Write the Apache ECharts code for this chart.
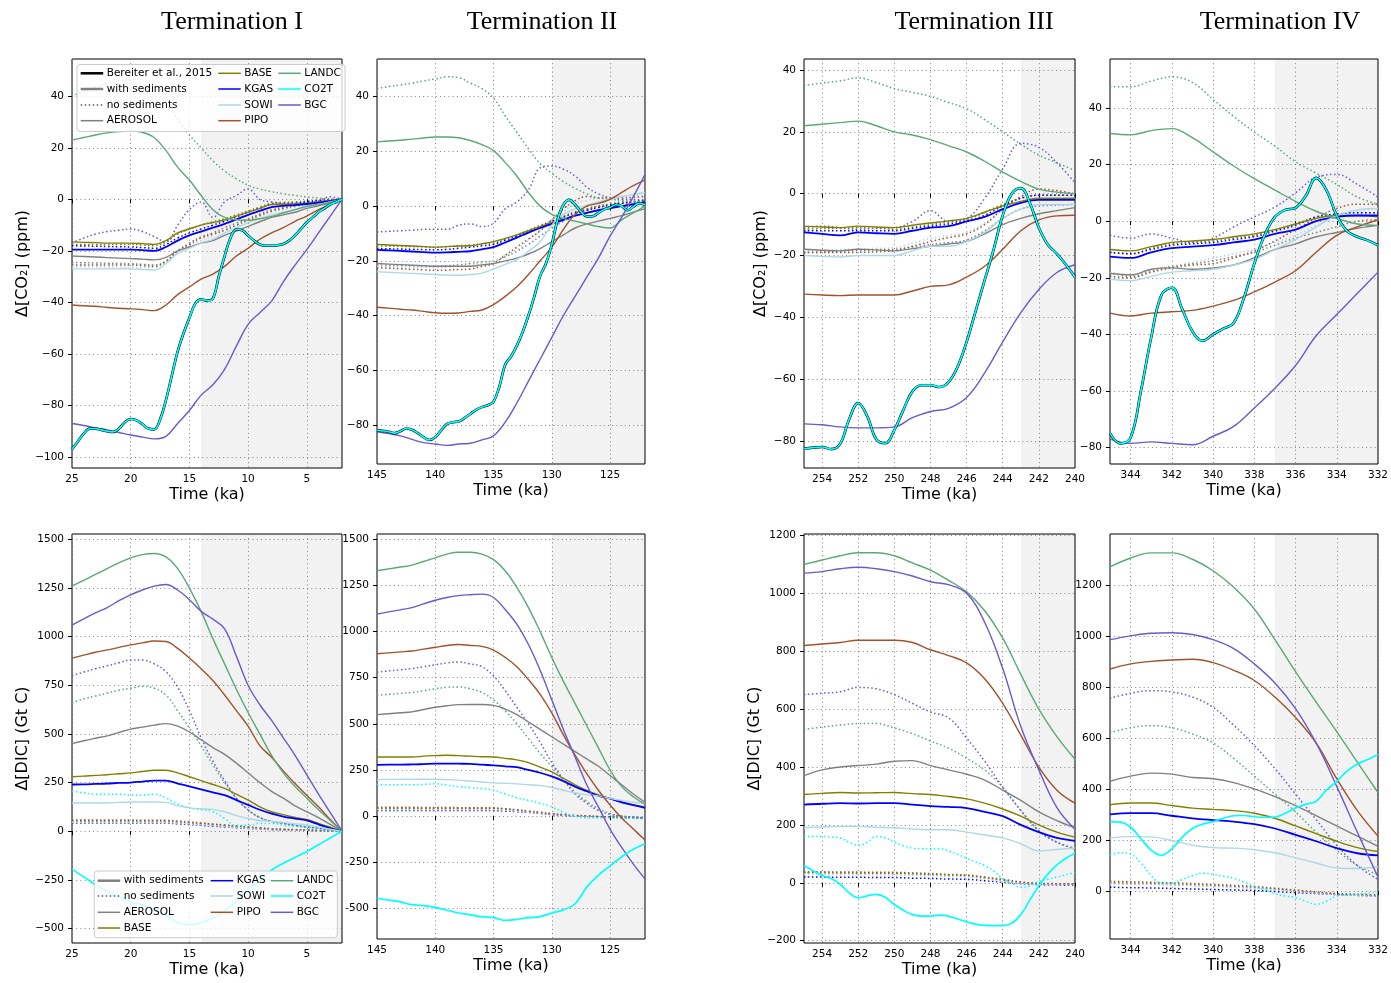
<!DOCTYPE html>
<html>
<head>
<meta charset="utf-8">
<script src="https://cdn.jsdelivr.net/npm/echarts@6/dist/echarts.min.js"></script>
<style>
html,body{margin:0;padding:0;background:#fff;}
#chart{width:1391px;height:983px;}
</style>
</head>
<body>
<div id="chart"></div>
<script>
// ---------------- time grids (ka) ----------------
const T_TI = [25,24,23,22,21,20,19,18,17,16,15,14,13,12,11,10,9,8,7,6,5,4,3,2];
const T_TI_FINE = [25,24.5,24,23.5,23,22.5,22,21.5,21,20.5,20,19.5,19,18.5,18,17.5,17,16.5,16,15.5,15,14.5,14,13.5,13,12.5,12,11.5,11,10.5,10,9.5,9,8.5,8,7.5,7,6.5,6,5.5,5,4.5,4,3.5,3,2.5,2];
const T_TII = [145,144,143,142,141,140,139,138,137,136,135,134,133,132,131,130,129,128,127,126,125,124,123,122];
const T_TII_FINE = [145,144.5,144,143.5,143,142.5,142,141.5,141,140.5,140,139.5,139,138.5,138,137.5,137,136.5,136,135.5,135,134.5,134,133.5,133,132.5,132,131.5,131,130.5,130,129.5,129,128.5,128,127.5,127,126.5,126,125.5,125,124.5,124,123.5,123,122.5,122];
const T_TIII = [255,254,253,252,251,250,249,248,247,246,245,244,243,242,241,240];
const T_TIII_FINE = [255,254.5,254,253.5,253,252.5,252,251.5,251,250.5,250,249.5,249,248.5,248,247.5,247,246.5,246,245.5,245,244.5,244,243.5,243,242.5,242,241.5,241,240.5,240];
const T_TIV = [345,344,343,342,341,340,339,338,337,336,335,334,333,332];
const T_TIV_FINE = [345,344.5,344,343.5,343,342.5,342,341.5,341,340.5,340,339.5,339,338.5,338,337.5,337,336.5,336,335.5,335,334.5,334,333.5,333,332.5,332];

// ---------------- tick labels ----------------
const TICKS_X_TI   = [25, 20, 15, 10, 5];
const TICKS_X_TII  = [145, 140, 135, 130, 125];
const TICKS_X_TIII = [254, 252, 250, 248, 246, 244, 242, 240];
const TICKS_X_TIV  = [344, 342, 340, 338, 336, 334, 332];
const TICKS_Y_CO2_TI = [-100, -80, -60, -40, -20, 0, 20, 40];
const TICKS_Y_CO2    = [-80, -60, -40, -20, 0, 20, 40];
const TICKS_Y_DIC_I  = [-500, -250, 0, 250, 500, 750, 1000, 1250, 1500];
const TICKS_Y_DIC_III = [-200, 0, 200, 400, 600, 800, 1000, 1200];
const TICKS_Y_DIC_IV  = [0, 200, 400, 600, 800, 1000, 1200];

// time spans [youngest, oldest] and onset of the shaded interval (ka)
const SPAN_TI = [2, 25],      SHADE_TI = 14;
const SPAN_TII = [122, 145],  SHADE_TII = 130;
const SPAN_TIII = [240, 255], SHADE_TIII = 243;
const SPAN_TIV = [332, 345],  SHADE_TIV = 337;

// ---------------- Δ[CO2] (ppm) ----------------
const BEREITER_TI = [-97,-94,-91,-89,-89,-89.5,-90,-90.3,-89,-86.5,-85.3,-85.8,-87.3,-89,-89.3,-85.5,-78,-68.5,-59,-52,-46,-40.5,-38.8,-39.3,-38.5,-30,-22,-15,-11.7,-12,-14,-16,-17.5,-18,-18,-17.8,-17.3,-16,-14,-11.5,-9,-7,-5,-3.5,-2,-1,0];
const CO2_TI_WITH = {
  AEROSOL: [-22,-22.2,-22.4,-22.6,-22.8,-23,-23.2,-23.5,-22.5,-20,-18.5,-17,-16,-14,-12.3,-10.5,-8.7,-7,-6,-5,-3.5,-2.5,-1.5,0],
  BASE:    [-16.5,-16.7,-16.8,-17,-17,-17,-17.2,-17.5,-16,-13,-11.5,-10,-9,-8,-6.5,-5,-3.5,-2,-1.9,-1.8,-1.5,-1,-0.5,0],
  KGAS:    [-19.5,-19.5,-19.5,-19.5,-19.5,-19.5,-19.7,-20,-18.5,-16,-14,-12.5,-11,-9.5,-7.8,-6,-4.5,-3,-2.5,-2.2,-1.8,-1.3,-0.7,0],
  SOWI:    [-27,-27,-27,-27,-27,-27,-27.2,-27.5,-25,-21,-19,-17,-15.5,-13,-11,-9,-7.5,-6,-5,-4,-3,-2,-1,0],
  PIPO:    [-41,-41.3,-41.5,-42,-42.3,-42.5,-42.8,-43.2,-41,-37,-34,-31,-29,-26,-22,-19,-15.5,-13,-11,-8.5,-6.5,-4,-2,0],
  LANDC:   [23,24,25,25.8,26.3,26.5,26,24,19,12.5,7.5,1.5,-4,-7,-7.9,-8.1,-7.5,-6.6,-5.3,-4,-2.7,-2,-1.2,0],
  CO2T:    BEREITER_TI,
  BGC:     [-87,-87.8,-88.7,-89.5,-90.5,-91.5,-92.3,-93,-92,-87,-82,-76,-72,-66,-57,-48.5,-44,-39.5,-32,-25.5,-19.5,-13,-6.5,0]
};
const CO2_TI_NO = {
  AEROSOL: [-24.5,-24.6,-24.7,-24.8,-24.9,-25,-25.2,-25.5,-24,-20,-17,-14.5,-13,-11,-9.2,-7.5,-5.7,-4,-3.2,-2.5,-1.8,-1,-0.5,0],
  BASE:    [-17.5,-17.5,-17.5,-17.5,-17.5,-17.5,-17.7,-18,-16.5,-13.5,-11.5,-10,-8.7,-7.5,-6,-4.5,-3,-1.5,-1.2,-1,-0.7,-0.3,0,0],
  KGAS:    [-18,-18.1,-18.2,-18.3,-18.4,-18.5,-18.7,-19,-17.5,-15,-13,-11.5,-10,-8.5,-6.8,-5,-3.5,-2,-1.8,-1.5,-1,-0.5,-0.2,0],
  SOWI:    [-26,-26.1,-26.2,-26.3,-26.4,-26.5,-26.5,-26.5,-24.5,-21,-18,-16,-14,-12,-10.2,-8.5,-6.7,-5,-4,-3,-2.2,-1.5,-0.7,0],
  PIPO:    [-25.5,-25.5,-25.5,-25.5,-25.5,-25.5,-25.7,-26,-24,-20,-17.5,-15,-13.5,-12,-10,-8,-6.2,-4.5,-3.5,-2.5,-1.7,-1,-0.5,0],
  LANDC:   [40,42,43.5,45,46,46.5,46.5,45,40,31,25,20,15,11,8,5.5,4,3,2.2,1.5,1,0.5,0.2,0],
  BGC:     [-17,-15,-13.5,-12.5,-12,-11.5,-12.5,-14.5,-16.5,-10,-4,-1,-7,-1,1.5,4,0,-1,-1.5,-1.5,-1.5,-0.5,1,0]
};

const BEREITER_TII = [-82,-82.2,-82.5,-83,-82.3,-81.3,-81.8,-83,-84.5,-85.5,-84.5,-82,-79.7,-79,-78.8,-77.5,-76,-74.5,-73.5,-72.8,-71.5,-66,-58,-55,-51,-46,-40,-33,-25.5,-21,-14,-5,0.5,2.3,0.5,-2,-3.8,-3.7,-2.5,-1.2,-0.5,0.5,0,-1.5,-0.2,1,0.5];
const CO2_TII_WITH = {
  AEROSOL: [-21,-21.2,-21.4,-21.6,-21.8,-22,-22,-22,-22,-21.5,-21,-20,-19,-17.5,-15.5,-13,-10.5,-8,-6.5,-5.5,-4.5,-3.5,-2.2,-1],
  BASE:    [-14,-14.2,-14.4,-14.6,-14.8,-15,-14.8,-14.6,-14.5,-13.8,-13,-11.8,-10.5,-9,-7.5,-6,-4.7,-3.5,-2.5,-1.5,-0.7,0,0.5,1],
  KGAS:    [-16,-16.2,-16.4,-16.6,-16.8,-17,-16.9,-16.7,-16.5,-15.8,-15,-13.3,-11.5,-9.7,-8,-6.5,-5,-3.5,-2.5,-1.5,-0.7,0,0.7,1.5],
  SOWI:    [-24,-24.2,-24.4,-24.6,-24.8,-25,-25.2,-25.3,-25,-24.5,-23,-21.3,-19.5,-16.5,-13,-7,-3,-1,0.3,1.5,2.5,3.5,4.3,5],
  PIPO:    [-37,-37.3,-37.7,-38,-38.5,-39,-39.2,-39.1,-38.5,-38,-36,-33,-29.5,-25,-20,-15,-8.5,-3,0,1,2.5,5,7.5,9.5],
  LANDC:   [23.5,23.8,24.1,24.5,24.9,25.3,25.3,25,24,22.5,20.3,16,11,5,0,-3,-4.5,-5.5,-6.5,-7.5,-8,-5,-2.5,0],
  CO2T:    BEREITER_TII,
  BGC:     [-82.5,-83.2,-84,-85.3,-86.5,-87,-87.5,-87,-86.7,-85.5,-84,-79,-72,-64,-56,-48,-40,-33,-26,-19,-11,-4,3.5,11.5]
};
const CO2_TII_NO = {
  AEROSOL: [-21.5,-21.6,-21.7,-21.8,-21.9,-22,-21.8,-21.5,-21,-20.5,-20,-18.5,-16.5,-14,-11,-8,-5.5,-3,-1.5,0,0.5,1,1.5,2],
  BASE:    [-14.5,-14.6,-14.7,-14.8,-14.9,-15,-14.8,-14.5,-14.2,-13.8,-13.5,-12,-10.5,-8.8,-7,-5.5,-3.8,-2,-1,0,0.8,1.5,1.8,2],
  KGAS:    [-15.5,-15.6,-15.7,-15.8,-15.9,-16,-15.8,-15.4,-15,-14.5,-14,-12.5,-11,-9.3,-7.5,-5.5,-4,-2.5,-1.5,-0.5,0.3,1,1.5,2],
  SOWI:    [-22,-22.1,-22.2,-22.3,-22.4,-22.5,-22.3,-22,-21.5,-20.8,-20,-18,-16,-12.5,-9,-5,-2,1,2,3,3.3,3.5,3.8,4],
  PIPO:    [-22.5,-22.7,-22.9,-23.1,-23.3,-23.5,-23.4,-23.2,-23,-22,-21,-18,-15,-12,-9,-5,-1,2,3.5,3,3,3,3.2,3.5],
  LANDC:   [43,43.7,44.3,45,45.8,46.5,47.3,47,45,43,39.5,33,27,21,15.5,12,9,6.5,4.5,3,2.5,2,1.7,1.5],
  BGC:     [-9.5,-9.2,-9,-8.8,-8.5,-8.5,-8.5,-7,-6.5,-7.5,-6.2,-1,1.5,6,14,14.7,13.5,11,7,4.5,3,2.5,2.4,2.3]
};

const BEREITER_TIII = [-82.5,-82.2,-82,-82.7,-81,-73,-67.8,-72,-79.5,-80.8,-76.5,-70,-64,-62,-62,-62.6,-61,-56,-48,-38,-28,-18,-7,0,1.8,-3,-11,-16.5,-19.5,-23,-27];
const CO2_TIII_WITH = {
  AEROSOL: [-18,-18.3,-18.5,-18,-18.2,-18.5,-17.8,-17,-16.3,-15.5,-13,-10,-8,-6.5,-5.5,-4.5],
  BASE:    [-10.5,-10.8,-11,-10.5,-10.8,-11,-10.2,-9.5,-8.8,-8,-6,-4,-2.5,-1.5,-1.5,-1.5],
  KGAS:    [-12.5,-13,-13.5,-12.5,-12.8,-13,-12,-11,-10.5,-9,-7.5,-5,-3,-2,-2,-2],
  SOWI:    [-20,-20.3,-20.5,-20,-20,-20,-18.5,-17,-17,-15.5,-12.5,-8,-5,-3.5,-3.5,-3.5],
  PIPO:    [-32.5,-32.8,-33,-32.8,-32.8,-32.8,-31.5,-30,-29.5,-27,-23.5,-18,-12,-8.5,-7.2,-7],
  LANDC:   [22,22.5,23,23.5,22,20,19,17.5,15.5,13.5,10.5,7,4,1.5,0.5,0],
  CO2T:    BEREITER_TIII,
  BGC:     [-74.5,-74.8,-75.5,-75.8,-75.8,-75.5,-72.5,-70.5,-69.5,-66,-58,-48,-38.5,-31,-25.5,-23]
};
const CO2_TIII_NO = {
  AEROSOL: [-19,-18.8,-18.6,-18.4,-18.2,-18,-17.3,-16.5,-15.8,-15,-12,-8,-5,-4,-3.7,-3.5],
  BASE:    [-11.5,-11.3,-11.2,-11,-11.2,-11.5,-10.8,-10,-9.2,-8.5,-6,-3.5,-1.5,-0.5,-0.5,-0.5],
  KGAS:    [-12,-12,-12,-12,-12,-12,-11.2,-10.5,-9.8,-9,-7,-4,-1.5,-0.5,-0.5,-0.5],
  SOWI:    [-18.5,-18.3,-18.1,-17.9,-17.7,-17.5,-16,-14.5,-13.5,-12.5,-9.5,-5.5,-3,-2,-2,-2],
  PIPO:    [-19,-19,-19,-19,-18.8,-18.5,-17,-15.5,-14.2,-13,-10,-5,-1,1.5,1,0],
  LANDC:   [35,35.8,36.5,37.5,36,34,32.8,31.5,29.5,27.5,24,20,16,12.5,10,7.5],
  BGC:     [-11,-10.5,-11,-11.5,-11.2,-11,-9,-5.5,-9,-8,-1.5,8,16.3,15,10,3.5]
};

const BEREITER_TIV = [-75,-78.5,-76.5,-60,-41,-26,-23.5,-31,-39,-42.3,-40,-38,-36,-27,-15,-5,1.5,4,4.7,9,15.3,11,2,-3.5,-5.5,-6.8,-8.5];
const CO2_TIV_WITH = {
  AEROSOL: [-18.5,-19,-17,-16.5,-17,-16.5,-15.5,-13,-10,-8,-5.5,-4,-2.5,-1.5],
  BASE:    [-10,-10.5,-9,-7.5,-7,-6.5,-5.5,-4.5,-3,-1,1,2,2,1.5],
  KGAS:    [-12.5,-13,-11,-9.5,-9,-8.5,-7.5,-6.5,-4.5,-3,0,1.5,2,2],
  SOWI:    [-20.5,-21,-19.5,-18,-17.5,-17,-15.5,-13.5,-10,-6.5,-2,2,4,4.5],
  PIPO:    [-32.5,-33.5,-32.5,-32,-31.5,-30,-28,-25,-21.5,-17.5,-11,-5,-2,0.5],
  LANDC:   [31,30.5,32,32.7,29.5,24.5,19.5,15,11,7,3.5,1,-1,-1.5],
  CO2T:    BEREITER_TIV,
  BGC:     [-77,-78.5,-78,-78.5,-79,-76,-72.5,-66,-59,-51,-40.5,-33,-25.5,-18]
};
const CO2_TIV_NO = {
  AEROSOL: [-18,-19.5,-17.5,-16,-15,-14,-12.5,-11,-8.5,-6,-4,-2,0,0.5],
  BASE:    [-11,-11.5,-9.5,-8,-7.5,-7,-6,-5,-3,-1,1.5,2.5,3,3],
  KGAS:    [-11,-11.5,-10,-8.5,-8,-7.5,-6.5,-5.5,-3.5,-1.5,1.5,2.5,3,3],
  SOWI:    [-18,-19,-17.5,-16,-14.5,-13,-11.5,-10,-7.5,-5,-1.5,2,3.5,4.5],
  PIPO:    [-19.5,-20,-18,-16.5,-15.5,-15,-13,-10.5,-7,-3,1,4.5,6,6],
  LANDC:   [47.5,47.5,49.5,51,49,43,37,31.5,26.5,21,17,13,8.5,6],
  BGC:     [-5,-6,-4.5,-6,-7.5,-6,-2,1.5,5,10,15.5,16.5,13,8.5]
};

// ---------------- Δ[DIC] (Gt C) ----------------
const DIC_TI_WITH = {
  AEROSOL: [450,465,478,490,508,525,535,545,553,540,510,470,430,395,350,300,250,205,170,130,100,70,35,0],
  BASE:    [280,283,287,290,295,300,307,313,313,300,280,260,240,220,190,160,125,100,85,70,60,40,20,0],
  KGAS:    [240,241,243,245,248,250,255,260,260,245,230,215,200,185,160,135,110,90,75,65,55,35,15,0],
  SOWI:    [145,145,145,145,148,150,150,150,148,130,120,115,112,100,80,65,55,50,45,38,32,22,10,0],
  PIPO:    [890,905,920,932,945,958,968,978,975,940,890,835,775,700,620,540,440,380,310,245,185,125,60,0],
  LANDC:   [1260,1290,1320,1350,1380,1405,1422,1428,1410,1350,1250,1130,990,860,730,610,500,390,300,230,170,110,55,0],
  CO2T:    [-195,-235,-275,-310,-340,-365,-380,-400,-430,-470,-480,-470,-445,-410,-360,-300,-250,-200,-165,-135,-105,-70,-35,0],
  BGC:     [1060,1092,1122,1150,1185,1215,1240,1260,1268,1240,1190,1130,1090,1040,900,750,650,570,480,390,290,190,95,0]
};
const DIC_TI_NO = {
  AEROSOL: [55,55,54,54,53,53,53,52,52,48,44,40,35,30,25,20,16,12,9,7,5,3,1.5,0],
  BASE:    [50,50,50,50,50,50,50,50,50,46,42,38,33,28,23,18,14,11,8,6,5,3,1.5,0],
  KGAS:    [42,42,42,42,42,42,42,42,42,38,34,30,26,22,18,14,11,8,6,5,4,2.5,1,0],
  SOWI:    [45,45,45,45,45,45,45,45,45,41,37,33,29,24,19,15,12,9,7,5,4,2.5,1,0],
  PIPO:    [58,58,57,57,57,57,56,56,56,52,47,42,37,32,27,22,17,13,10,8,6,4,2,0],
  LANDC:   [660,680,695,710,725,735,745,735,700,620,530,440,340,250,170,110,70,50,40,30,22,15,7,0],
  CO2T:    [205,198,190,190,190,185,185,190,170,140,120,110,100,65,30,30,40,40,30,25,18,10,5,0],
  BGC:     [800,818,835,850,866,880,880,860,820,740,620,480,360,260,170,110,70,50,40,30,22,15,7,0]
};

const DIC_TII_WITH = {
  AEROSOL: [550,555,560,565,578,590,598,604,605,605,600,580,550,510,470,430,390,350,310,270,220,170,120,75],
  BASE:    [320,320,320,320,325,328,330,328,325,322,320,313,305,290,265,240,205,170,140,115,95,75,60,50],
  KGAS:    [278,279,279,280,282,284,285,284,283,279,275,270,265,250,235,215,190,160,135,110,95,75,60,45],
  SOWI:    [198,199,199,200,200,200,198,195,190,185,180,178,175,170,165,155,140,125,115,110,95,85,75,70],
  PIPO:    [880,885,890,895,905,915,925,930,925,920,900,860,810,740,660,560,440,330,230,140,60,-10,-70,-130],
  LANDC:   [1330,1340,1350,1360,1380,1400,1420,1430,1430,1420,1390,1330,1240,1130,1000,860,730,610,490,370,250,160,105,65],
  CO2T:    [-445,-455,-465,-480,-485,-495,-510,-525,-535,-545,-550,-565,-560,-550,-545,-525,-508,-475,-385,-320,-270,-220,-180,-150],
  BGC:     [1095,1107,1118,1130,1150,1170,1185,1195,1200,1203,1185,1120,1040,930,790,630,470,320,170,50,-70,-170,-260,-340]
};
const DIC_TII_NO = {
  AEROSOL: [42,42,42,42,42,42,42,42,42,42,42,38,32,25,18,12,7,3,0,-3,-5,-8,-10,-12],
  BASE:    [40,40,40,40,40,40,40,40,40,40,40,36,30,24,17,10,6,2,0,-3,-5,-8,-10,-12],
  KGAS:    [30,30,30,30,30,30,30,30,30,30,30,27,24,20,14,8,4,0,-2,-4,-6,-8,-10,-12],
  SOWI:    [35,35,35,35,35,35,35,35,35,35,35,31,27,22,16,10,5,1,-2,-5,-7,-10,-12,-15],
  PIPO:    [48,48,48,48,47,47,47,46,46,46,45,40,34,28,21,14,8,4,2,-2,-5,-8,-10,-12],
  LANDC:   [655,660,665,670,680,690,698,700,690,670,630,570,500,420,340,270,200,130,80,40,15,0,-5,-10],
  CO2T:    [170,170,170,170,172,175,168,160,155,150,140,120,100,85,70,50,20,0,-10,-10,-10,-10,-10,-10],
  BGC:     [780,787,793,800,810,820,830,835,825,810,760,680,590,500,400,290,200,120,70,30,10,0,-5,-10]
};

const DIC_TIII_WITH = {
  AEROSOL: [370,390,400,405,410,420,422,405,390,375,355,320,285,245,215,190],
  BASE:    [305,309,312,310,311,312,308,305,298,290,275,255,230,200,175,158],
  KGAS:    [270,273,275,274,275,275,270,265,262,258,245,230,200,175,155,145],
  SOWI:    [190,193,195,195,192,190,186,183,183,175,165,155,135,110,115,120],
  PIPO:    [820,825,830,838,838,838,830,805,785,760,705,620,510,400,320,275],
  LANDC:   [1100,1115,1130,1140,1140,1130,1105,1080,1045,1005,940,845,720,600,505,427],
  CO2T:    [60,42,25,15,-5,-35,-52,-45,-40,-50,-75,-95,-110,-115,-115,-112,-115,-125,-135,-143,-147,-148,-148,-140,-110,-60,-10,30,62,85,102],
  BGC:     [1070,1075,1085,1090,1085,1075,1060,1040,1030,1000,900,740,540,390,260,185]
};
const DIC_TIII_NO = {
  AEROSOL: [35,35,34,34,34,33,31,29,27,25,18,10,2,-3,-4,-5],
  BASE:    [35,34,34,33,33,32,30,28,26,24,17,8,0,-3,-4,-5],
  KGAS:    [20,20,19,19,18,18,16,15,13,12,7,2,-3,-6,-7,-8],
  SOWI:    [30,30,29,29,28,28,26,24,22,20,13,5,-2,-4,-5,-6],
  PIPO:    [38,38,37,37,36,36,34,32,29,27,20,12,3,-2,-3,-4],
  LANDC:   [530,538,545,550,550,535,515,490,465,430,390,330,250,180,140,115],
  CO2T:    [160,160,160,158,155,140,130,140,160,155,140,128,120,118,118,118,110,98,85,72,60,40,15,-2,-15,-10,5,12,20,28,35],
  BGC:     [650,655,660,675,670,650,620,590,570,500,420,330,250,180,140,120]
};

const DIC_TIV_WITH = {
  AEROSOL: [430,450,462,458,445,440,425,400,370,335,295,255,215,175],
  BASE:    [338,345,345,335,325,320,315,305,285,255,225,195,170,155],
  KGAS:    [300,305,305,295,285,278,272,262,245,220,195,168,148,140],
  SOWI:    [208,213,212,198,180,170,168,162,150,130,110,90,88,95],
  PIPO:    [870,890,900,905,908,895,865,825,760,680,580,440,315,215],
  LANDC:   [1270,1305,1325,1325,1300,1255,1190,1105,985,860,740,625,505,386],
  CO2T:    [272,270,250,205,160,140,165,210,245,262,272,285,295,296,291,289,290,305,325,340,352,395,430,470,498,515,535],
  BGC:     [985,1000,1010,1012,1005,985,950,890,815,715,580,410,230,55]
};
const DIC_TIV_NO = {
  AEROSOL: [33,31,30,28,25,22,18,15,8,0,-6,-12,-15,-18],
  BASE:    [30,28,27,25,22,20,16,12,6,0,-6,-12,-15,-18],
  KGAS:    [15,13,12,10,8,6,4,2,-2,-6,-10,-14,-17,-20],
  SOWI:    [28,26,25,24,21,18,14,10,4,-2,-8,-14,-17,-20],
  PIPO:    [38,36,34,32,29,26,22,18,11,4,-3,-10,-13,-15],
  LANDC:   [620,640,648,640,615,580,520,450,380,310,230,160,100,65],
  CO2T:    [140,150,145,110,60,30,30,45,60,70,65,58,50,35,18,5,-10,-20,-25,-40,-52,-40,-20,-15,-12,-8,-5],
  BGC:     [755,775,785,780,760,720,650,570,480,380,280,180,100,45]
};

// ---------------- styling ----------------
const COLORS = {
  AEROSOL: '#808080', BASE: '#808000', KGAS: '#0000ff', SOWI: '#add8e6',
  PIPO: '#a0522d', LANDC: '#5aa878', CO2T: '#00ffff', BGC: '#6a5acd', BEREITER: '#000000'
};
const EXPERIMENTS = ['AEROSOL', 'BASE', 'KGAS', 'SOWI', 'PIPO', 'LANDC', 'CO2T', 'BGC'];
const TITLES = ['Termination I', 'Termination II', 'Termination III', 'Termination IV'];
const TITLE_X = [232, 542, 974, 1280];
const FONT = 'DejaVu Sans, Liberation Sans, sans-serif';
const DOTS = [1.5, 2.5];

// panel layout: [left, top, width, height] in px, axis limits, data
const PANELS = [
  {box: [72, 59, 270, 409],    t: T_TI,   tf: T_TI_FINE,   x: SPAN_TI,   xt: TICKS_X_TI,   y: [-104.3, 54.5], yt: TICKS_Y_CO2_TI,  shade: SHADE_TI,   withSed: CO2_TI_WITH,   noSed: CO2_TI_NO,   ref: BEREITER_TI,   yname: 'Δ[CO₂] (ppm)', ygap: 41},
  {box: [377, 59, 268, 405],   t: T_TII,  tf: T_TII_FINE,  x: SPAN_TII,  xt: TICKS_X_TII,  y: [-94.3, 53.8],  yt: TICKS_Y_CO2,     shade: SHADE_TII,  withSed: CO2_TII_WITH,  noSed: CO2_TII_NO,  ref: BEREITER_TII},
  {box: [804, 59, 271, 409],   t: T_TIII, tf: T_TIII_FINE, x: SPAN_TIII, xt: TICKS_X_TIII, y: [-88.8, 43.6],  yt: TICKS_Y_CO2,     shade: SHADE_TIII, withSed: CO2_TIII_WITH, noSed: CO2_TIII_NO, ref: BEREITER_TIII, yname: 'Δ[CO₂] (ppm)', ygap: 35},
  {box: [1110, 59, 268, 405],  t: T_TIV,  tf: T_TIV_FINE,  x: SPAN_TIV,  xt: TICKS_X_TIV,  y: [-85.8, 57.3],  yt: TICKS_Y_CO2,     shade: SHADE_TIV,  withSed: CO2_TIV_WITH,  noSed: CO2_TIV_NO,  ref: BEREITER_TIV},
  {box: [72, 534, 270, 409],   t: T_TI,   tf: T_TI_FINE,   x: SPAN_TI,   xt: TICKS_X_TI,   y: [-575, 1528],   yt: TICKS_Y_DIC_I,   shade: SHADE_TI,   withSed: DIC_TI_WITH,   noSed: DIC_TI_NO,   yname: 'Δ[DIC] (Gt C)', ygap: 41},
  {box: [377, 534, 268, 405],  t: T_TII,  tf: T_TII_FINE,  x: SPAN_TII,  xt: TICKS_X_TII,  y: [-666, 1529],   yt: TICKS_Y_DIC_I,   shade: SHADE_TII,  withSed: DIC_TII_WITH,  noSed: DIC_TII_NO,  hyphen: true},
  {box: [804, 534, 271, 409],  t: T_TIII, tf: T_TIII_FINE, x: SPAN_TIII, xt: TICKS_X_TIII, y: [-208, 1205],   yt: TICKS_Y_DIC_III, shade: SHADE_TIII, withSed: DIC_TIII_WITH, noSed: DIC_TIII_NO, yname: 'Δ[DIC] (Gt C)', ygap: 40},
  {box: [1110, 534, 268, 405], t: T_TIV,  tf: T_TIV_FINE,  x: SPAN_TIV,  xt: TICKS_X_TIV,  y: [-188, 1399],   yt: TICKS_Y_DIC_IV,  shade: SHADE_TIV,  withSed: DIC_TIV_WITH,  noSed: DIC_TIV_NO}
];

const grids = [], xAxes = [], yAxes = [], series = [];
const gridLine = {show: true, lineStyle: {color: '#666', width: 0.8, type: [1, 3.2]}};
const labelStyle = {color: '#000', fontFamily: FONT, fontSize: 10.5};

function minusFormatter(hyphen) {
  return v => (v < 0 ? (hyphen ? '-' : '\u2212') + Math.abs(v) : String(v));
}

// pair each value with its time (coarse or fine grid, by length)
function pairs(p, vals) {
  const t = vals.length === p.t.length ? p.t : p.tf;
  return vals.map((v, k) => [t[k], v]);
}

function line(i, name, data, color, width, dotted, z) {
  return {
    type: 'line', name, xAxisIndex: i, yAxisIndex: i, data,
    showSymbol: false, symbol: 'none', smooth: 0.4,
    silent: true, z,
    lineStyle: {color, width, type: dotted ? DOTS : 'solid', cap: 'butt', join: 'round'}
  };
}

PANELS.forEach((p, i) => {
  grids.push({left: p.box[0], top: p.box[1], width: p.box[2], height: p.box[3],
    show: true, borderColor: '#000', borderWidth: 1, backgroundColor: 'transparent'});
  xAxes.push({
    gridIndex: i, type: 'value', min: p.x[0], max: p.x[1], inverse: true,
    axisLine: {show: false},
    axisTick: {show: true, customValues: p.xt, length: 4, lineStyle: {color: '#000'}},
    axisLabel: Object.assign({customValues: p.xt, margin: 6}, labelStyle),
    splitLine: gridLine,
    name: 'Time (ka)', nameLocation: 'middle', nameGap: 19,
    nameTextStyle: {color: '#000', fontFamily: FONT, fontSize: 16}
  });
  const y = {
    gridIndex: i, type: 'value', min: p.y[0], max: p.y[1],
    axisLine: {show: false},
    axisTick: {show: true, customValues: p.yt, length: 4, lineStyle: {color: '#000'}},
    axisLabel: Object.assign({customValues: p.yt, margin: 8, formatter: minusFormatter(p.hyphen)}, labelStyle),
    splitLine: gridLine
  };
  if (p.yname) {
    Object.assign(y, {name: p.yname, nameLocation: 'middle', nameGap: p.ygap, nameRotate: 90,
      nameTextStyle: {color: '#000', fontFamily: FONT, fontSize: 16}});
  }
  yAxes.push(y);

  // shaded deglacial interval
  series.push({type: 'line', xAxisIndex: i, yAxisIndex: i, data: [], silent: true,
    markArea: {silent: true, z: -1, itemStyle: {color: '#f2f2f2'},
      data: [[{xAxis: p.shade}, {xAxis: p.x[0]}]]}});

  // runs without sediments (dotted)
  EXPERIMENTS.forEach(k => {
    if (p.noSed[k]) series.push(line(i, k + ' no sediments', pairs(p, p.noSed[k]), COLORS[k], 1.5, true, 2));
  });
  // runs with sediments (solid)
  EXPERIMENTS.forEach(k => {
    if (k === 'CO2T') return;
    series.push(line(i, k, pairs(p, p.withSed[k]), COLORS[k], k === 'KGAS' ? 1.8 : 1.4, false, 3));
  });
  if (p.ref) series.push(line(i, 'Bereiter et al., 2015', pairs(p, p.ref), COLORS.BEREITER, 2.6, false, 4));
  series.push(line(i, 'CO2T', pairs(p, p.withSed.CO2T), COLORS.CO2T, 1.7, false, 5));
});

// ---------------- legends & titles ----------------
const LEGEND_TOP = [
  [['Bereiter et al., 2015', '#000', 2.5, false], ['with sediments', '#808080', 2.5, false], ['no sediments', '#808080', 2, true], ['AEROSOL', COLORS.AEROSOL, 1.5, false]],
  [['BASE', COLORS.BASE, 1.5, false], ['KGAS', COLORS.KGAS, 1.5, false], ['SOWI', COLORS.SOWI, 1.5, false], ['PIPO', COLORS.PIPO, 1.5, false]],
  [['LANDC', COLORS.LANDC, 1.5, false], ['CO2T', COLORS.CO2T, 1.5, false], ['BGC', COLORS.BGC, 1.5, false]]
];
const LEGEND_BOTTOM = [
  [['with sediments', '#808080', 2.5, false], ['no sediments', '#808080', 2, true], ['AEROSOL', COLORS.AEROSOL, 1.5, false], ['BASE', COLORS.BASE, 1.5, false]],
  [['KGAS', COLORS.KGAS, 1.5, false], ['SOWI', COLORS.SOWI, 1.5, false], ['PIPO', COLORS.PIPO, 1.5, false]],
  [['LANDC', COLORS.LANDC, 1.5, false], ['CO2T', COLORS.CO2T, 1.5, false], ['BGC', COLORS.BGC, 1.5, false]]
];

function legendGraphic(cols, box, colX, rowY) {
  const els = [{type: 'rect', shape: {x: box[0], y: box[1], width: box[2], height: box[3], r: 3},
    style: {fill: 'rgba(255,255,255,0.8)', stroke: '#cccccc', lineWidth: 1}, z: 100}];
  cols.forEach((col, c) => col.forEach((it, r) => {
    const x0 = colX[c], yy = rowY[r];
    els.push({type: 'line', shape: {x1: x0, y1: yy, x2: x0 + 22.5, y2: yy},
      style: {stroke: it[1], lineWidth: it[2], lineDash: it[3] ? [1.5, 2.5] : null}, z: 101});
    els.push({type: 'text', x: x0 + 26, y: yy, z: 101,
      style: {text: it[0], fill: '#000', font: '10.5px ' + FONT, verticalAlign: 'middle'}});
  }));
  return els;
}

const graphics = []
  .concat(legendGraphic(LEGEND_TOP, [77, 64.5, 268, 67], [80.7, 218.3, 278.3], [73.3, 89, 105, 120.7]))
  .concat(legendGraphic(LEGEND_BOTTOM, [94.3, 871, 243, 66.7], [97.7, 210.7, 270.7], [880.7, 896, 912.3, 928]));
TITLES.forEach((t, i) => graphics.push({type: 'text', x: TITLE_X[i], y: 22, z: 101,
  style: {text: t, fill: '#000', font: '26px "Liberation Serif", "DejaVu Serif", serif', align: 'center', verticalAlign: 'middle'}}));

const chart = echarts.init(document.getElementById('chart'), null, {renderer: 'canvas'});
chart.setOption({
  animation: false,
  backgroundColor: '#ffffff',
  grid: grids, xAxis: xAxes, yAxis: yAxes, series: series,
  graphic: graphics
});
</script>
</body>
</html>
